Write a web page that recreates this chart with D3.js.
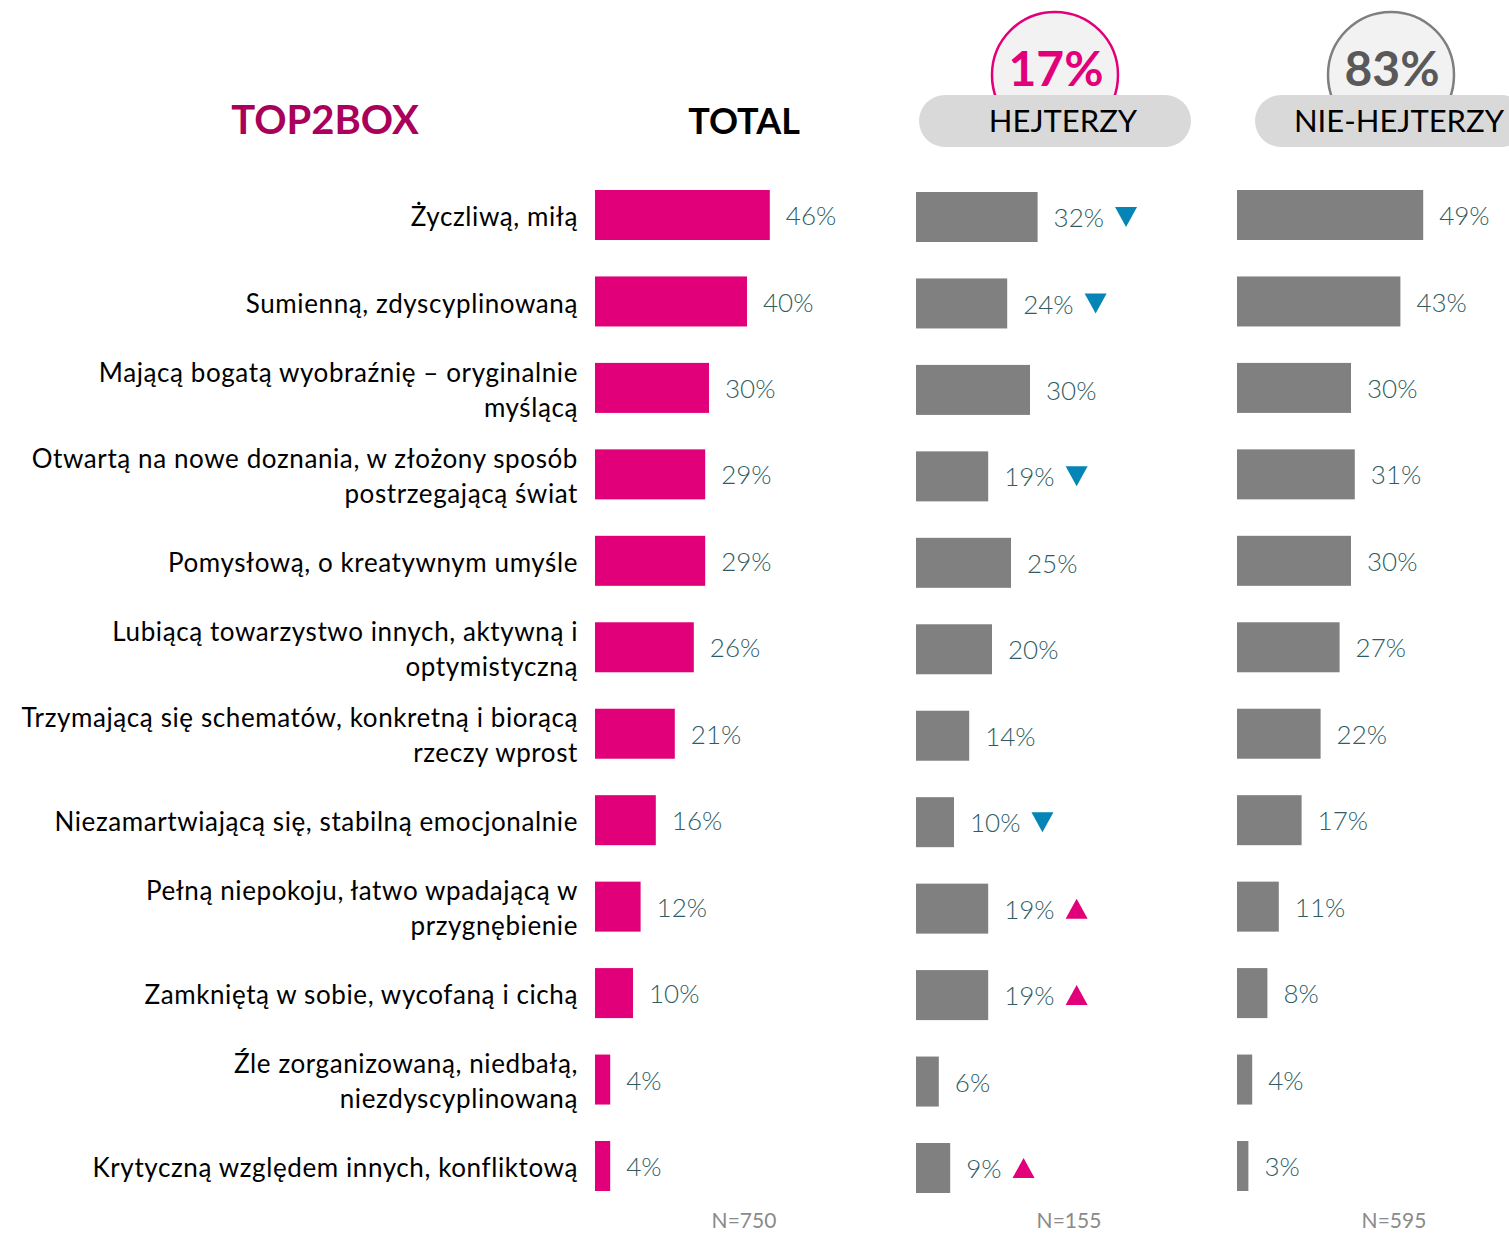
<!DOCTYPE html>
<html>
<head>
<meta charset="utf-8">
<script src="https://cdn.jsdelivr.net/npm/d3@7"></script>
<style>
  body { margin: 0; background: #fff; }
  svg { display: block; }
</style>
</head>
<body>
<div id="viz"></div>
<script>
var categories = [
    ["Życzliwą, miłą"],
    ["Sumienną, zdyscyplinowaną"],
    ["Mającą bogatą wyobraźnię – oryginalnie", "myślącą"],
    ["Otwartą na nowe doznania, w złożony sposób", "postrzegającą świat"],
    ["Pomysłową, o kreatywnym umyśle"],
    ["Lubiącą towarzystwo innych, aktywną i", "optymistyczną"],
    ["Trzymającą się schematów, konkretną i biorącą", "rzeczy wprost"],
    ["Niezamartwiającą się, stabilną emocjonalnie"],
    ["Pełną niepokoju, łatwo wpadającą w", "przygnębienie"],
    ["Zamkniętą w sobie, wycofaną i cichą"],
    ["Źle zorganizowaną, niedbałą,", "niezdyscyplinowaną"],
    ["Krytyczną względem innych, konfliktową"]
];

var totalValues = [46, 40, 30, 29, 29, 26, 21, 16, 12, 10, 4, 4];
var hejterzyValues = [32, 24, 30, 19, 25, 20, 14, 10, 19, 19, 6, 9];
var nieHejterzyValues = [49, 43, 30, 31, 30, 27, 22, 17, 11, 8, 4, 3];
// significance markers for the HEJTERZY group
var hejterzySig = ['down', 'down', '', 'down', '', '', '', 'down', 'up', 'up', '', 'up'];

var groupNames = ['TOTAL', 'HEJTERZY', 'NIE-HEJTERZY'];
var groupShares = ['', '17%', '83%'];
var sampleSizes = ['N=750', 'N=155', 'N=595'];

var width = 1509,
    height = 1235;

var pink = '#e2007a',
    gray = '#808080',
    blue = '#0585b5',
    valueColor = '#2f5d63';

var svg = d3.select('#viz').append('svg')
    .attr('width', width)
    .attr('height', height);

var yScale = d3.scaleBand()
    .domain(d3.range(categories.length))
    .range([190, 1191])
    .paddingInner(0.4216)
    .paddingOuter(0);

var xScale = d3.scaleLinear()
    .domain([0, 100])
    .range([0, 380]);

var groups = [
    { x0: 595, dy: 0, values: totalValues, color: pink, sig: null, nx: 744 },
    { x0: 916, dy: 2, values: hejterzyValues, color: gray, sig: hejterzySig, nx: 1069 },
    { x0: 1237, dy: 0, values: nieHejterzyValues, color: gray, sig: null, nx: 1394 }
];

// category labels
var labels = svg.append('g')
    .selectAll('text').data(categories)
    .enter().append('text')
    .attr('text-anchor', 'end')
    .attr('font-family', 'Lato, sans-serif')
    .attr('font-size', 26)
    .attr('letter-spacing', 0.6)
    .attr('fill', '#000');

labels.each(function(lines, i) {
    var cy = yScale(i) + yScale.bandwidth() / 2 + 2;
    var start = cy - (lines.length - 1) * 35 / 2;
    d3.select(this).selectAll('tspan').data(lines)
        .enter().append('tspan')
        .attr('x', 578)
        .attr('y', function(d, j) { return start + j * 35; })
        .attr('dy', '0.35em')
        .text(function(d) { return d; });
});

// bars + values
groups.forEach(function(g, gi) {
    var gEl = svg.append('g');

    gEl.selectAll('rect').data(g.values)
        .enter().append('rect')
        .attr('x', g.x0)
        .attr('y', function(d, i) { return yScale(i) + g.dy; })
        .attr('width', function(d) { return xScale(d); })
        .attr('height', yScale.bandwidth())
        .attr('fill', g.color);

    var vals = gEl.selectAll('text.val').data(g.values)
        .enter().append('text')
        .attr('class', 'val')
        .attr('x', function(d) { return g.x0 + xScale(d) + 16; })
        .attr('y', function(d, i) { return yScale(i) + g.dy + yScale.bandwidth() / 2 + 1; })
        .attr('dy', '0.35em')
        .attr('font-family', 'Lato, sans-serif')
        .attr('font-weight', 300)
        .attr('font-size', 26)
        .attr('fill', valueColor)
        .text(function(d) { return d + '%'; });

    if (g.sig) {
        vals.each(function(d, i) {
            var s = g.sig[i];
            if (!s) return;
            var bb = this.getBBox();
            var tx = bb.x + bb.width + 11,
                cy = yScale(i) + g.dy + yScale.bandwidth() / 2;
            var pts = s === 'down'
                ? [[tx, cy - 10], [tx + 22, cy - 10], [tx + 11, cy + 10]]
                : [[tx + 11, cy - 10], [tx + 22, cy + 10], [tx, cy + 10]];
            gEl.append('path')
                .attr('d', d3.line()(pts) + 'Z')
                .attr('fill', s === 'down' ? blue : pink);
        });
    }

    svg.append('text')
        .attr('x', g.nx)
        .attr('y', 1222)
        .attr('dy', '0.3em')
        .attr('text-anchor', 'middle')
        .attr('font-family', 'Lato, sans-serif')
        .attr('font-size', 21)
        .attr('fill', '#8a8a8a')
        .text(sampleSizes[gi]);
});

// headers
svg.append('text')
    .attr('x', 325)
    .attr('y', 120)
    .attr('dy', '0.35em')
    .attr('text-anchor', 'middle')
    .attr('font-family', 'Lato, sans-serif')
    .attr('font-weight', 700)
    .attr('font-size', 40)
    .attr('fill', '#a8005b')
    .text('TOP2BOX');

svg.append('text')
    .attr('x', 744)
    .attr('y', 121)
    .attr('dy', '0.35em')
    .attr('text-anchor', 'middle')
    .attr('font-family', 'Lato, sans-serif')
    .attr('font-weight', 700)
    .attr('font-size', 36)
    .attr('fill', '#000')
    .text(groupNames[0]);

var badges = [
    { cx: 1055, pillX: 919, pillW: 272, textX: 1063, stroke: pink, shareColor: pink },
    { cx: 1391, pillX: 1255, pillW: 272, textX: 1399, stroke: '#7f7f7f', shareColor: '#595959' }
];

badges.forEach(function(b, i) {
    var bg = svg.append('g');
    bg.append('circle')
        .attr('cx', b.cx)
        .attr('cy', 75)
        .attr('r', 63)
        .attr('fill', '#f2f2f2')
        .attr('stroke', b.stroke)
        .attr('stroke-width', 2.5);
    bg.append('text')
        .attr('x', b.cx + 1)
        .attr('y', 69)
        .attr('dy', '0.35em')
        .attr('text-anchor', 'middle')
        .attr('font-family', 'Lato, sans-serif')
        .attr('font-weight', 700)
        .attr('font-size', 48)
        .attr('fill', b.shareColor)
        .text(groupShares[i + 1]);
    bg.append('rect')
        .attr('x', b.pillX)
        .attr('y', 95)
        .attr('width', b.pillW)
        .attr('height', 52)
        .attr('rx', 26)
        .attr('fill', '#d9d9d9');
    bg.append('text')
        .attr('x', b.textX)
        .attr('y', 121)
        .attr('dy', '0.35em')
        .attr('text-anchor', 'middle')
        .attr('font-family', 'Lato, sans-serif')
        .attr('font-size', 31)
        .attr('fill', '#000')
        .text(groupNames[i + 1]);
});
</script>
</body>
</html>
